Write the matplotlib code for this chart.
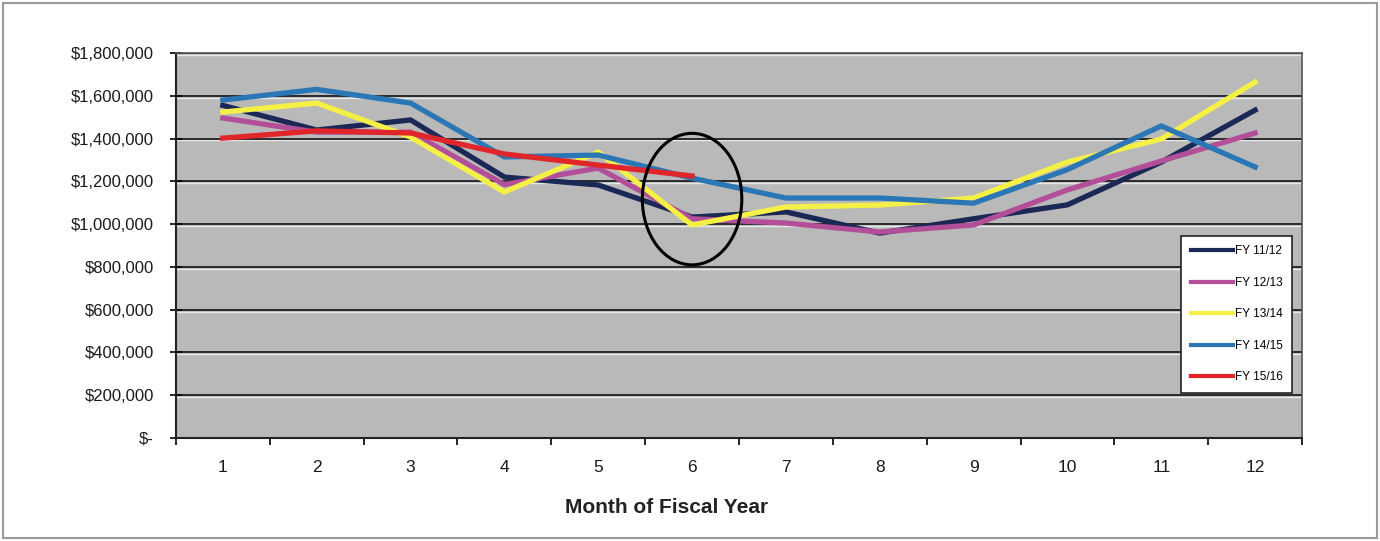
import matplotlib
matplotlib.use("Agg")
import matplotlib.pyplot as plt
from matplotlib.patches import Ellipse, Rectangle
from matplotlib.ticker import FuncFormatter, FixedLocator, NullFormatter

plt.rcParams['font.family'] = ['Liberation Sans', 'DejaVu Sans']

# ── monthly totals by fiscal year ─────────────────────────────────────────────
months = list(range(1, 13))
fy_11_12 = [1555000, 1440000, 1487000, 1220000, 1183000, 1033000,
            1057000, 958000, 1025000, 1090000, 1290000, 1533000]
fy_12_13 = [1496000, 1430000, 1430000, 1185000, 1262000, 1025000,
            1005000, 963000, 996000, 1160000, 1295000, 1426000]
fy_13_14 = [1524000, 1566000, 1407000, 1150000, 1337000, 996000,
            1080000, 1089000, 1122000, 1290000, 1398000, 1664000]
fy_14_15 = [1580000, 1630000, 1566000, 1314000, 1323000, 1215000,
            1122000, 1122000, 1098000, 1255000, 1459000, 1267000]
fy_15_16 = [1402000, 1436000, 1426000, 1328000, 1276000, 1225000]

series = [
    ("FY 11/12", fy_11_12, "#1b2856"),
    ("FY 12/13", fy_12_13, "#b24f98"),
    ("FY 13/14", fy_13_14, "#f4f046"),
    ("FY 14/15", fy_14_15, "#2b77b6"),
    ("FY 15/16", fy_15_16, "#e0262a"),
]

y_ticks = list(range(0, 1800001, 200000))


def dollars(v, _pos):
    return "$-" if v == 0 else f"${v:,.0f}"


fig = plt.figure(figsize=(13.8, 5.41), dpi=100)
fig.patch.set_facecolor("white")
fig.add_artist(Rectangle((0.002, 0.005), 0.996, 0.99, transform=fig.transFigure,
                         fill=False, edgecolor="#9a9a9a", linewidth=1.5))

ax = fig.add_axes([0.1275, 0.1904, 0.816, 0.7116])
ax.set_facecolor("#b9b9b9")

# Excel-style gridlines: dark rule with a faint light line under it
for v in y_ticks[1:]:
    ax.axhline(v - 9000, color="#e8e8e8", linewidth=1.0, zorder=1)
    ax.axhline(v, color="#2a2a2a", linewidth=1.4, zorder=1.1)

for label, vals, color in series:
    ax.plot(months[:len(vals)], vals, color=color, linewidth=3.8,
            label=label, zorder=3, solid_joinstyle="miter")

# circle around month 6
ax.add_patch(Ellipse((6.0, 1117000), 1.06, 615000, fill=False,
                     edgecolor="black", linewidth=2.2, zorder=4))

ax.set_xlim(0.5, 12.5)
ax.set_ylim(0, 1800000)
ax.set_yticks(y_ticks)
ax.yaxis.set_major_formatter(FuncFormatter(dollars))
ax.xaxis.set_major_locator(FixedLocator([m + 0.5 for m in range(0, 13)]))
ax.xaxis.set_major_formatter(NullFormatter())
ax.xaxis.set_minor_locator(FixedLocator(months))
ax.set_xticklabels([str(m) for m in months], minor=True)
ax.tick_params(axis="x", which="minor", length=0, pad=16, labelsize=12.5)
ax.tick_params(axis="x", which="major", length=5, width=1.2, direction="out")
ax.tick_params(axis="y", length=8, width=1.2, direction="inout",
               labelsize=12, pad=12)
for lbl in ax.get_xticklabels(minor=True) + ax.get_yticklabels():
    lbl.set_color("#1a1a1a")

for side in ["top", "right"]:
    ax.spines[side].set_color("#555555")
    ax.spines[side].set_linewidth(1.2)
ax.spines["left"].set_color("#222222")
ax.spines["bottom"].set_color("#222222")
ax.spines["left"].set_linewidth(1.5)
ax.spines["bottom"].set_linewidth(1.5)

ax.set_xlabel("Month of Fiscal Year", fontsize=15, fontweight="bold",
              color="#222222")
ax.xaxis.set_label_coords(0.436, -0.155)

leg = ax.legend(loc="lower right", bbox_to_anchor=(0.9915, 0.118),
                fontsize=8.5, frameon=True, fancybox=False, handlelength=3.6,
                handletextpad=0.15, labelspacing=1.65, borderpad=0.8,
                borderaxespad=0)
leg.get_frame().set_edgecolor("#222222")
leg.get_frame().set_linewidth(1.2)
leg.get_frame().set_facecolor("white")
leg.get_frame().set_alpha(1)
for line in leg.get_lines():
    line.set_linewidth(3.0)

fig.savefig("out.png", dpi=100)
